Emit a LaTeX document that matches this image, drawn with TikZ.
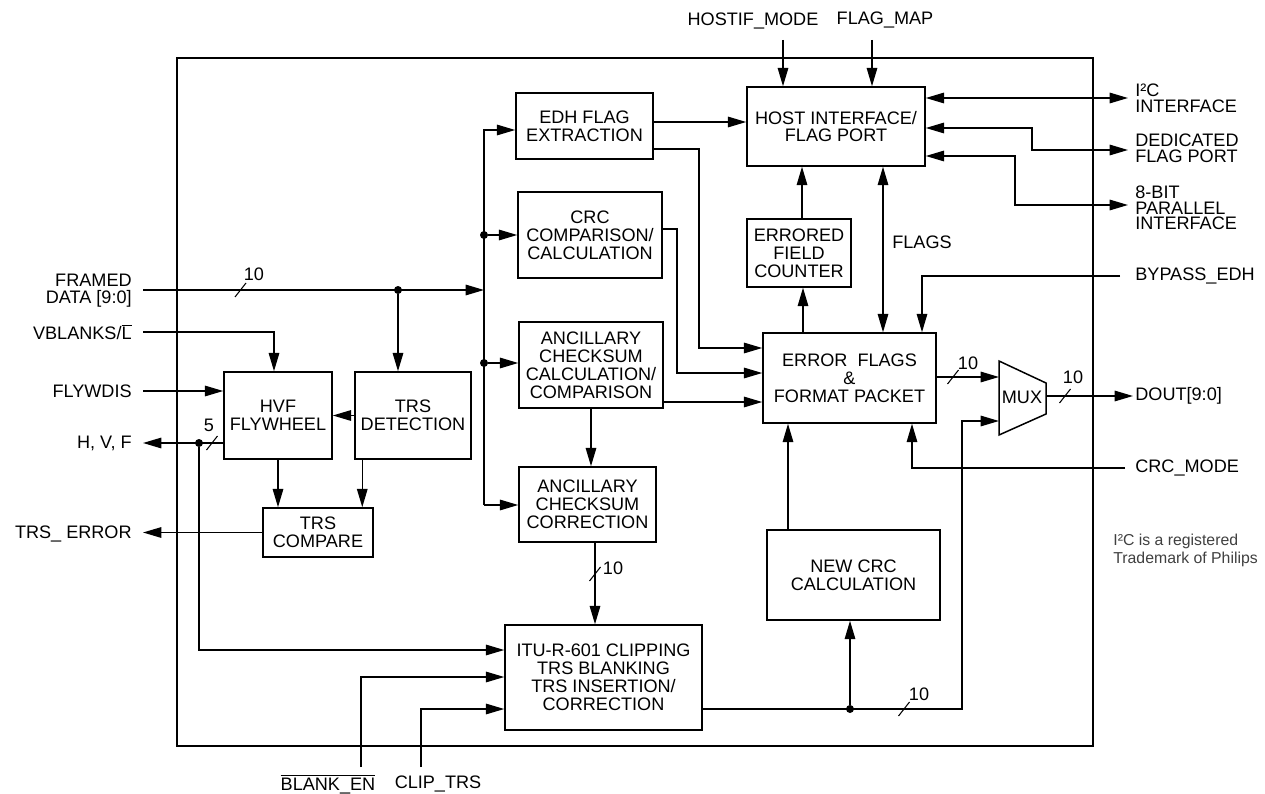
\documentclass[tikz,border=0pt]{standalone}
\usepackage{fontspec}
\setmainfont{Liberation Sans}
\usetikzlibrary{arrows.meta}

\begin{document}
\begin{tikzpicture}[
  x=0.02cm, y=-0.02cm,
  font=\fontsize{10.3}{10.2}\selectfont,
  blk/.style={draw, line width=0.85pt, align=center, inner sep=0pt},
  lft/.style={anchor=east, align=right, inner xsep=0.22cm, inner ysep=0pt,
              font=\fontsize{10.3}{9.6}\selectfont},
  rgt/.style={anchor=west, align=left, inner xsep=0.14cm, inner ysep=0pt,
              font=\fontsize{10.3}{8.9}\selectfont},
  dot/.style={circle, fill, inner sep=0pt, minimum size=0.16cm},
  arr/.style={-{Triangle[length=10.5pt,width=6pt]}, line width=0.85pt},
  darr/.style={{Triangle[length=10.5pt,width=6pt]}-{Triangle[length=10.5pt,width=6pt]},
               line width=0.85pt}
]
\useasboundingbox (0,0) rectangle (1265,794);

% chip outline
\draw[line width=0.85pt] (177,58) rectangle (1093,746);

% blocks
\node[blk, minimum width=2.74cm, minimum height=1.32cm] (edh) at (584.5,126) {EDH FLAG\\EXTRACTION};
\node[blk, minimum width=2.88cm, minimum height=1.72cm] (crc) at (590,235) {CRC\\COMPARISON/\\CALCULATION};
\node[blk, minimum width=2.88cm, minimum height=1.72cm] (anc) at (591,365) {ANCILLARY\\CHECKSUM\\CALCULATION/\\COMPARISON};
\node[blk, minimum width=2.74cm, minimum height=1.5cm] (ancc) at (587.5,504.5) {ANCILLARY\\CHECKSUM\\CORRECTION};
\node[blk, minimum width=3.94cm, minimum height=2.1cm] (itu) at (603.5,677.5) {ITU-R-601 CLIPPING\\TRS BLANKING\\TRS INSERTION/\\CORRECTION};
\node[blk, minimum width=3.56cm, minimum height=1.58cm] (host) at (836,126.5) {HOST INTERFACE/\\FLAG PORT};
\node[blk, minimum width=2.08cm, minimum height=1.36cm] (efc) at (799,253) {ERRORED\\FIELD\\COUNTER};
\node[blk, minimum width=3.46cm, minimum height=1.8cm] (err) at (849.5,378) {ERROR\ \ FLAGS\\\&\\FORMAT PACKET};
\node[blk, minimum width=3.46cm, minimum height=1.8cm] (ncrc) at (853.5,575) {NEW CRC\\CALCULATION};
\node[blk, minimum width=2.16cm, minimum height=1.74cm] (hvf) at (278,415.5) {HVF\\FLYWHEEL};
\node[blk, minimum width=2.32cm, minimum height=1.74cm] (trsd) at (413,415.5) {TRS\\DETECTION};
\node[blk, minimum width=2.2cm, minimum height=0.98cm] (trsc) at (318,532.5) {TRS\\COMPARE};
\draw[line width=0.85pt] (999,361) -- (1046,383) -- (1046,414) -- (999,435) -- cycle;
\node (mux) at (1022,397) {MUX};
\coordinate (muxa) at (999,377);
\coordinate (muxb) at (999,421);
\coordinate (muxo) at (1046,396);

% pin labels
\node[lft] (fdat) at (143,291) {FRAMED\\DATA [9:0]};
\node[lft] (vbl) at (143,332) {VBLANKS/$\overline{\mbox{L}}$};
\node[lft] (fwd) at (143,391) {FLYWDIS};
\node[lft] (hvfo) at (143,443) {H, V, F};
\node[lft] (trse) at (143,534) {TRS\_ ERROR};
\node[rgt] (i2c) at (1128,98.5) {I²C\\INTERFACE};
\node[rgt] (ded) at (1128,148) {DEDICATED\\FLAG PORT};
\node[rgt] (pbit) at (1128,208) {8-BIT\\PARALLEL\\INTERFACE};
\node[rgt] (byp) at (1128,276) {BYPASS\_EDH};
\node[rgt] (dout) at (1128,396) {DOUT[9:0]};
\node[rgt] (crcm) at (1128,468) {CRC\_MODE};
\node (hmode) at (753,21) {HOSTIF\_MODE};
\node (fmap) at (885,20) {FLAG\_MAP};
\node (blanken) at (328,784) {$\overline{\mbox{BLANK\_EN}}$};
\node (cliptrs) at (438,784) {CLIP\_TRS};
\node[anchor=west, inner xsep=0pt] (flags) at (892,242) {FLAGS};
\node[anchor=west, align=left, inner sep=0pt, text=black!75,
      font=\fontsize{9}{10.2}\selectfont] (tmark) at (1113,550) {I²C is a registered\\Trademark of Philips};
\coordinate (hmin) at (783,40);
\coordinate (fmin) at (872,40);
\coordinate (blkin) at (361,767);
\coordinate (clpin) at (421,767);

% data path in
\coordinate (bus) at (484,290);
\draw[arr] (fdat.east |- bus) -- (bus);
\node[dot] (j1) at (398,290) {};
\draw[arr] (j1) -- (j1 |- trsd.north);
\coordinate (bt) at (484,130);
\coordinate (bb) at (484,505);
\draw[arr] (bb) -- (bt) -- (bt -| edh.west);
\draw[arr] (bb) -- (bb -| ancc.west);
\node[dot] (j2) at (484,235) {};
\node[dot] (j3) at (484,363) {};
\draw[arr] (j2) -- (j2 -| crc.west);
\draw[arr] (j3) -- (j3 -| anc.west);

% flywheel side
\draw[arr] (vbl.east) -| ([xshift=-0.08cm]hvf.north);
\draw[arr] (fwd.east) -- (fwd.east -| hvf.west);
\draw[arr] (trsd.west) -- (hvf.east);
\draw[arr] (hvf.west |- hvfo.east) -- (hvfo.east);
\node[dot] (jh) at (199,443) {};
\draw[arr] (jh) |- (itu.west |- 0,650);
\draw[arr] (hvf.south) -- (hvf.south |- trsc.north);
\draw[arr] ([xshift=0.16cm]trsd.south west) -- ([xshift=0.16cm]trsd.south west |- trsc.north);
\draw[arr] (trsc.west) -- (trsc.west -| trse.east);

% checks into flags
\draw[arr] ([yshift=0.08cm]edh.east) -- ([yshift=0.08cm]edh.east -| host.west);
\draw[arr] (edh.east |- 0,149) -| (699,348) -- (err.west |- 0,348);
\draw[arr] (crc.east |- 0,229) -| (677,373) -- (err.west |- 0,373);
\draw[arr] (anc.east |- 0,402) -- (err.west |- 0,402);
\draw[arr] (anc.south) -- (anc.south |- ancc.north);
\draw[arr] (ancc.south -| 595,0) -- (itu.north -| 595,0);

% host port
\draw[arr] (hmin) -- (hmin |- host.north);
\draw[arr] (fmin) -- (fmin |- host.north);
\draw[arr] (efc.north -| 802,0) -- (host.south -| 802,0);
\draw[arr] (err.north -| 803,0) -- (efc.south -| 803,0);
\draw[darr] (host.south -| 883,0) -- (err.north -| 883,0);
\draw[darr] (host.east |- 0,98) -- (i2c.west |- 0,98);
\draw[darr] (host.east |- 0,128) -| (1032,150) -- (ded.west |- 0,150);
\draw[darr] (host.east |- 0,156) -| (1015,205) -- (pbit.west |- 0,205);
\draw[arr] ([xshift=-0.16cm]byp.west) -| (err.north -| 922,0);

% output side
\draw[arr] (err.east |- muxa) -- (muxa);
\draw[arr] (muxo) -- ([xshift=0.1cm]dout.west);
\draw[arr] (itu.east |- 0,709) -- (962,709) |- (muxb);
\node[dot] (jn) at (850,709) {};
\draw[arr] (jn) -- (jn |- ncrc.south);
\draw[arr] (ncrc.north -| 788,0) -- (err.south -| 788,0);
\draw[arr] ([xshift=-0.06cm]crcm.west) -| (err.south -| 912,0);
\draw[arr] (blkin) |- (itu.west |- 0,677);
\draw[arr] (clpin) |- (itu.west |- 0,709);

% bus widths
\foreach \sx/\sy/\lx/\ly/\w [count=\i] in {240.5/290/254/274/10, 212/443/209/425/5,
    595/574/613/568/10, 904/709/919/694/10, 953/377/968/363/10, 1065/396/1073/377/10}
{
  \draw[line width=0.6pt] (\sx-5.5,\sy+7) -- (\sx+5.5,\sy-7);
  \node (bw\i) at (\lx,\ly) {\w};
}
\end{tikzpicture}
\end{document}
